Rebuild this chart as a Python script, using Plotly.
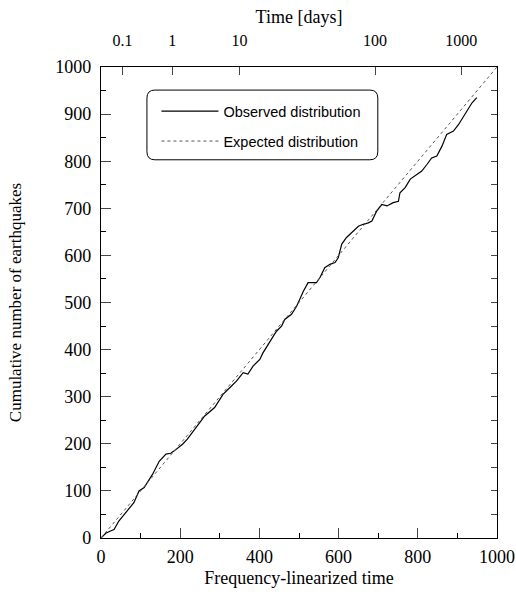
import plotly.graph_objects as go

# Observed cumulative distribution (frequency-linearized time vs count)
obs_x = [0, 4, 12, 24, 33, 45, 62, 83, 96, 109, 130, 147, 164, 176, 185, 206, 218, 245, 262, 287,
         308, 325, 342, 359, 371, 384, 401, 409, 422, 435, 443, 456, 464, 481, 494, 502, 511, 523, 544, 553,
         565, 578, 591, 599, 608, 620, 629, 637, 650, 662, 675, 684, 696, 709, 722, 738, 751, 755, 768, 781,
         797, 810, 823, 835, 848, 861, 873, 890, 903, 916, 928, 937, 949]
obs_y = [0, 4, 10, 15, 18, 36, 54, 75, 100, 107, 135, 163, 178, 180, 185, 199, 210, 241, 259, 277,
         305, 319, 333, 351, 348, 365, 379, 393, 411, 429, 439, 450, 464, 475, 492, 507, 524, 542, 542, 553,
         574, 581, 585, 595, 624, 638, 645, 652, 662, 666, 669, 673, 694, 708, 705, 712, 715, 733, 744, 762,
         772, 779, 793, 807, 811, 832, 857, 864, 878, 896, 910, 924, 935]

# Expected (uniform) distribution
exp_x = [0, 1000]
exp_y = [0, 1000]

# Top axis: time in days at frequency-linearized positions
top_tick_pos = [54, 180, 350, 692, 910]
top_tick_text = ["0.1", "1", "10", "100", "1000"]

serif = "Liberation Serif, Times New Roman, serif"
sans = "Liberation Sans, Arial, sans-serif"

fig = go.Figure()
fig.add_trace(go.Scatter(x=obs_x, y=obs_y, mode="lines", name="Observed distribution",
                         legendgroup="a", line=dict(color="black", width=1.2)))
fig.add_trace(go.Scatter(x=exp_x, y=exp_y, mode="lines", name="Expected distribution",
                         legendgroup="b", line=dict(color="#555555", width=1, dash="dot")))
fig.add_trace(go.Scatter(x=[None], y=[None], xaxis="x2", yaxis="y2", showlegend=False,
                         hoverinfo="skip"))

fig.update_layout(
    width=516, height=597,
    margin=dict(l=101, r=19, t=67, b=59),
    paper_bgcolor="white", plot_bgcolor="white",
    font=dict(family=serif, size=18, color="black"),
    xaxis=dict(range=[0, 1000], dtick=200, ticks="inside", ticklen=10, tickwidth=1,
               showline=True, linecolor="black", linewidth=1.2, showgrid=False, zeroline=False,
               automargin=False,
               minor=dict(ticks="inside", ticklen=5, dtick=100, tickcolor="black"),
               title=dict(text="Frequency-linearized time", standoff=5, font=dict(size=18)),
               tickfont=dict(size=18), ticklabelstandoff=2),
    yaxis=dict(range=[0, 1000], dtick=100, ticks="inside", ticklen=10, tickwidth=1,
               showline=True, linecolor="black", linewidth=1.2, showgrid=False, zeroline=False,
               automargin=False,
               minor=dict(ticks="inside", ticklen=5, dtick=50, tickcolor="black"),
               title=dict(text="Cumulative number of earthquakes", standoff=29, font=dict(size=17)),
               tickfont=dict(size=18), ticklabelstandoff=5),
    xaxis2=dict(range=[0, 1000], overlaying="x", side="top", anchor="y",
                tickvals=top_tick_pos, ticktext=top_tick_text, ticks="inside", ticklen=8,
                showline=True, linecolor="black", linewidth=1.2, showgrid=False, zeroline=False,
                automargin=False,
                title=dict(text="Time [days]", standoff=3, font=dict(size=18)),
                tickfont=dict(size=16), ticklabelstandoff=14),
    yaxis2=dict(range=[0, 1000], overlaying="y", side="right", anchor="x", dtick=50,
                ticks="inside", ticklen=6, showticklabels=False, automargin=False,
                showline=True, linecolor="black", linewidth=1.2, showgrid=False, zeroline=False),
    legend=dict(x=0.14, y=0.94, xanchor="left", yanchor="top", bgcolor="rgba(0,0,0,0)",
                borderwidth=0, font=dict(family=sans, size=14.5), tracegroupgap=8, itemwidth=57),
    showlegend=True,
    shapes=[dict(type="path", xref="paper", yref="paper",
                 path="M 0.136,0.951 L 0.679,0.951 Q 0.699,0.951 0.699,0.934 L 0.699,0.820 "
                      "Q 0.699,0.803 0.679,0.803 L 0.136,0.803 Q 0.116,0.803 0.116,0.820 "
                      "L 0.116,0.934 Q 0.116,0.951 0.136,0.951 Z",
                 line=dict(color="black", width=1))],
)

fig.write_html("out.html")
